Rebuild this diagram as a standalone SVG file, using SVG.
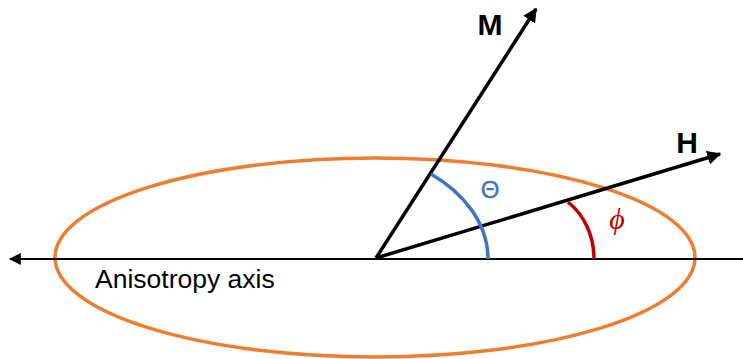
<svg xmlns="http://www.w3.org/2000/svg" width="743" height="359" viewBox="0 0 743 359">
<style>
.ln{stroke:#000;fill:none}
.lbl{font-family:"Liberation Sans",Arial,sans-serif;fill:#000}
</style>
<defs>
<marker id="ah" viewBox="0 0 10 10" refX="9" refY="5" markerWidth="4" markerHeight="4" orient="auto" markerUnits="strokeWidth">
<path d="M0,0 L10,5 L0,10 z" fill="#000"/>
</marker>
<marker id="ah2" viewBox="0 0 10 10" refX="9" refY="5" markerWidth="6" markerHeight="6" orient="auto" markerUnits="strokeWidth">
<path d="M0,0 L10,5 L0,10 z" fill="#000"/>
</marker>
</defs>
<rect width="743" height="359" fill="#fff"/>
<g id="ellipse">
<ellipse cx="375" cy="257.5" rx="320" ry="99.5" fill="none" stroke="#ED7D31" stroke-width="3.5"/>
</g>
<g id="connectors">
<line class="ln" x1="743" y1="259" x2="10" y2="259" stroke-width="2" marker-end="url(#ah2)"/>
<line class="ln" x1="376" y1="258" x2="536" y2="9" stroke-width="3.5" marker-end="url(#ah)"/>
<line class="ln" x1="376" y1="258" x2="720" y2="154" stroke-width="3.5" marker-end="url(#ah)"/>
</g>
<g id="theta">
<path d="M431,174 C462,192 488,222 488,259" fill="none" stroke="#4472C4" stroke-width="3.5"/>
<text x="490" y="198" font-family="Liberation Sans,Arial,sans-serif" font-size="24" fill="#4472C4" text-anchor="middle" stroke="#4472C4" stroke-width="0.4">Θ</text>
</g>
<g id="phi">
<path d="M568,202 C583,214 594,234 594,259" fill="none" stroke="#C00000" stroke-width="3.5"/>
<text x="617" y="229" font-family="Liberation Serif,Times New Roman,serif" font-style="italic" font-size="30" fill="#C00000" text-anchor="middle">ϕ</text>
</g>
<g id="M"><text class="lbl" x="490" y="35" font-size="30" font-weight="bold" text-anchor="middle">M</text></g>
<g id="H"><text class="lbl" x="687" y="153" font-size="30" font-weight="bold" text-anchor="middle">H</text></g>
<g id="axis-label"><text class="lbl" x="95" y="288" font-size="26.5">Anisotropy axis</text></g>
</svg>
